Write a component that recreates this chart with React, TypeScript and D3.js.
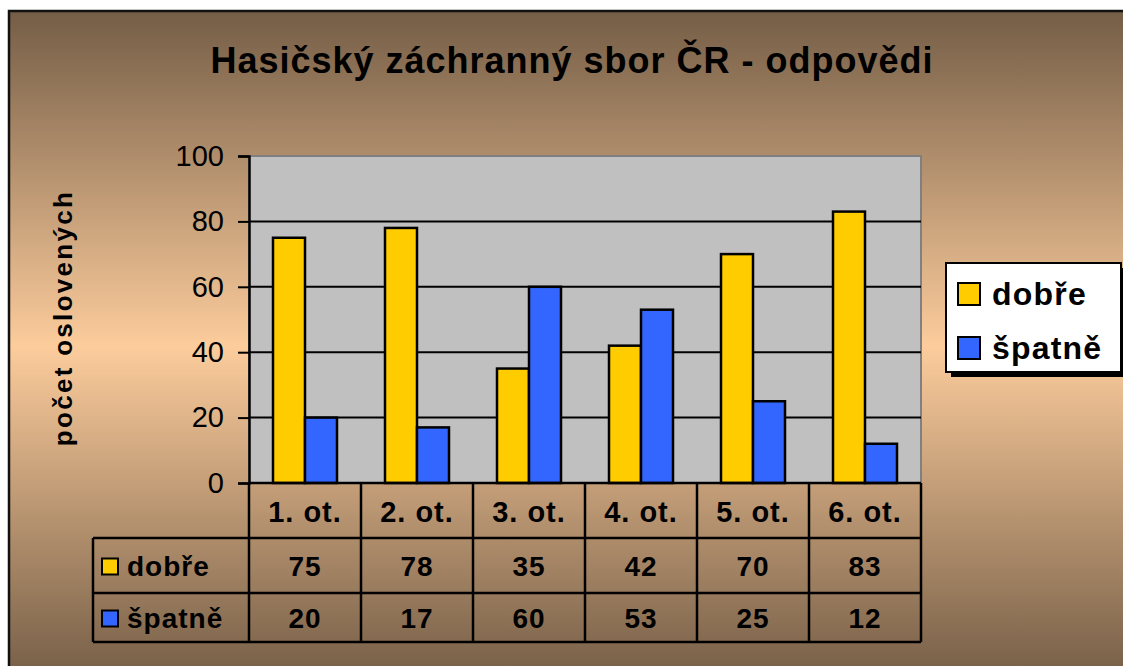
import React, { useEffect, useRef } from 'react';
import * as d3 from 'd3';

const categories = ['1. ot.', '2. ot.', '3. ot.', '4. ot.', '5. ot.', '6. ot.'];
const seriesNames = ['dobře', 'špatně'];
const dobre = [75, 78, 35, 42, 70, 83];
const spatne = [20, 17, 60, 53, 25, 12];
const yTicks = [0, 20, 40, 60, 80, 100];
const colors = ['#ffcc00', '#3366ff'];

const App = () => {
    const svgRef = useRef<SVGSVGElement>(null);

    useEffect(() => {
        const svg = d3.select(svgRef.current);
        svg.selectAll('*').remove();

        const width = 1123;
        const height = 666;
        const font = 'Arial, "Liberation Sans", sans-serif';
        const plot = { left: 249, right: 921, top: 156, bottom: 483 };
        const rowH = [55, 55, 49]; // header row, dobře row, špatně row
        const tableLeft = 93;

        const values = [dobre, spatne];

        // background gradient
        const defs = svg.append('defs');
        const grad = defs.append('linearGradient')
            .attr('id', 'bg')
            .attr('x1', 0).attr('y1', 0).attr('x2', 0).attr('y2', 1);
        grad.append('stop').attr('offset', '0%').attr('stop-color', '#745d46');
        grad.append('stop').attr('offset', '50%').attr('stop-color', '#fccc9c');
        grad.append('stop').attr('offset', '100%').attr('stop-color', '#745d46');

        svg.append('rect')
            .attr('x', 9).attr('y', 11)
            .attr('width', width + 20).attr('height', height + 4)
            .attr('fill', 'url(#bg)')
            .attr('stroke', '#111')
            .attr('stroke-width', 2.5);

        // title
        svg.append('text')
            .attr('x', 572).attr('y', 73)
            .attr('text-anchor', 'middle')
            .attr('font-family', font)
            .attr('font-weight', 'bold')
            .attr('font-size', 36)
            .attr('letter-spacing', 1)
            .text('Hasičský záchranný sbor ČR - odpovědi');

        const x0 = d3.scaleBand<string>()
            .domain(categories)
            .range([plot.left, plot.right])
            .padding(0);
        const x1 = d3.scaleBand<string>()
            .domain(seriesNames)
            .range([0, x0.bandwidth()])
            .paddingInner(0)
            .paddingOuter(0.75);
        const y = d3.scaleLinear().domain([0, 100]).range([plot.bottom, plot.top]);

        // plot area
        svg.append('rect')
            .attr('x', plot.left).attr('y', plot.top)
            .attr('width', plot.right - plot.left).attr('height', plot.bottom - plot.top)
            .attr('fill', '#c0c0c0')
            .attr('stroke', '#808080')
            .attr('stroke-width', 2);

        // gridlines
        svg.append('g')
            .selectAll('line')
            .data(yTicks.filter(t => t > 0 && t < 100))
            .join('line')
            .attr('x1', plot.left).attr('x2', plot.right)
            .attr('y1', d => y(d)).attr('y2', d => y(d))
            .attr('stroke', '#000')
            .attr('stroke-width', 2);

        // bars
        seriesNames.forEach((s, si) => {
            svg.append('g')
                .selectAll('rect')
                .data(values[si])
                .join('rect')
                .attr('x', (d, i) => (x0(categories[i]) as number) + (x1(s) as number))
                .attr('y', d => y(d))
                .attr('width', x1.bandwidth())
                .attr('height', d => y(0) - y(d))
                .attr('fill', colors[si])
                .attr('stroke', '#000')
                .attr('stroke-width', 2.5);
        });

        // y axis
        const yAxis = svg.append('g')
            .attr('transform', `translate(${plot.left},0)`)
            .call(d3.axisLeft(y).tickValues(yTicks).tickSize(11).tickPadding(14));
        yAxis.select('.domain').attr('stroke', '#000').attr('stroke-width', 2.5);
        yAxis.selectAll('.tick line').attr('stroke', '#000').attr('stroke-width', 2);
        yAxis.selectAll('.tick text')
            .attr('font-family', font)
            .attr('font-size', 29)
            .attr('fill', '#000');

        // y axis title
        svg.append('text')
            .attr('transform', 'translate(72,318) rotate(-90)')
            .attr('text-anchor', 'middle')
            .attr('font-family', font)
            .attr('font-weight', 'bold')
            .attr('font-size', 26)
            .attr('letter-spacing', 2.3)
            .text('počet oslovených');

        // data table
        const rowTop = [plot.bottom, plot.bottom + rowH[0], plot.bottom + rowH[0] + rowH[1]];
        const tableBottom = rowTop[2] + rowH[2];
        const table = svg.append('g')
            .attr('stroke', '#000')
            .attr('stroke-width', 2.5);

        // horizontal lines
        table.append('line')
            .attr('x1', plot.left).attr('x2', plot.right)
            .attr('y1', plot.bottom).attr('y2', plot.bottom);
        [rowTop[1], rowTop[2], tableBottom].forEach(yy => {
            table.append('line')
                .attr('x1', tableLeft).attr('x2', plot.right)
                .attr('y1', yy).attr('y2', yy);
        });
        // vertical lines
        table.append('line')
            .attr('x1', tableLeft).attr('x2', tableLeft)
            .attr('y1', rowTop[1]).attr('y2', tableBottom);
        categories.forEach(c => {
            const xx = x0(c) as number;
            table.append('line')
                .attr('x1', xx).attr('x2', xx)
                .attr('y1', plot.bottom).attr('y2', tableBottom);
        });
        table.append('line')
            .attr('x1', plot.right).attr('x2', plot.right)
            .attr('y1', plot.bottom).attr('y2', tableBottom);

        const cellText = (xx: number, yy: number, t: string, size: number) =>
            svg.append('text')
                .attr('x', xx).attr('y', yy)
                .attr('text-anchor', 'middle')
                .attr('dominant-baseline', 'central')
                .attr('font-family', font)
                .attr('font-weight', 'bold')
                .attr('font-size', size)
                .attr('letter-spacing', 1)
                .text(t);

        categories.forEach(c => {
            const cx = (x0(c) as number) + x0.bandwidth() / 2;
            cellText(cx, rowTop[0] + rowH[0] / 2 + 1, c, 29);
        });
        seriesNames.forEach((s, si) => {
            const cy = rowTop[si + 1] + rowH[si + 1] / 2 + 1;
            values[si].forEach((v, i) => {
                const cx = (x0(categories[i]) as number) + x0.bandwidth() / 2;
                cellText(cx, cy, String(v), 28);
            });
            svg.append('rect')
                .attr('x', 102).attr('y', cy - 8)
                .attr('width', 16).attr('height', 16)
                .attr('fill', colors[si])
                .attr('stroke', '#000')
                .attr('stroke-width', 2);
            svg.append('text')
                .attr('x', 127).attr('y', cy)
                .attr('dominant-baseline', 'central')
                .attr('font-family', font)
                .attr('font-weight', 'bold')
                .attr('font-size', 28)
                .attr('letter-spacing', 1)
                .text(s);
        });

        // legend
        const lg = { x: 946, y: 263, w: 175, h: 109 };
        svg.append('rect')
            .attr('x', lg.x + 5).attr('y', lg.y + 5)
            .attr('width', lg.w).attr('height', lg.h)
            .attr('fill', '#000');
        svg.append('rect')
            .attr('x', lg.x).attr('y', lg.y)
            .attr('width', lg.w).attr('height', lg.h)
            .attr('fill', '#fff')
            .attr('stroke', '#000')
            .attr('stroke-width', 2);
        seriesNames.forEach((s, si) => {
            const cy = lg.y + 31 + si * 54;
            svg.append('rect')
                .attr('x', lg.x + 12).attr('y', cy - 11)
                .attr('width', 22).attr('height', 22)
                .attr('fill', colors[si])
                .attr('stroke', '#000')
                .attr('stroke-width', 2);
            svg.append('text')
                .attr('x', lg.x + 46).attr('y', cy)
                .attr('dominant-baseline', 'central')
                .attr('font-family', font)
                .attr('font-weight', 'bold')
                .attr('font-size', 32)
                .attr('letter-spacing', 1.2)
                .text(s);
        });
    }, []);

    return (
        <div style={{ position: 'absolute', left: 0, top: 0 }}>
            <svg ref={svgRef} width="1123" height="666" style={{ display: 'block' }}></svg>
        </div>
    );
};

export default App;
